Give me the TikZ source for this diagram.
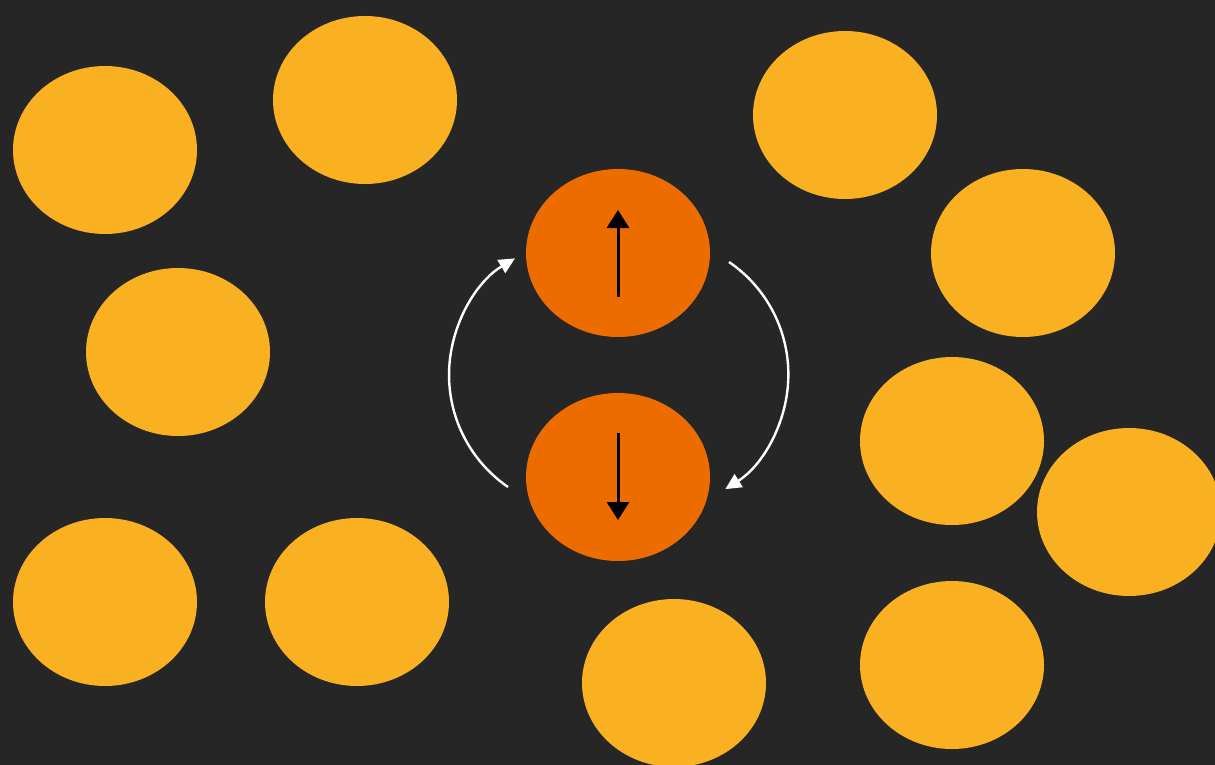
\documentclass[tikz,border=0pt]{standalone}
\usetikzlibrary{shapes.geometric,arrows.meta}
\definecolor{bg}{HTML}{262626}
\definecolor{sun}{HTML}{F9B122}
\definecolor{spin}{HTML}{EC6C00}
\begin{document}
\begin{tikzpicture}[x=0.5pt,y=-0.5pt,
  particle/.style={ellipse,fill=sun,draw=none,minimum width=92pt,minimum height=84pt,inner sep=0pt},
  pair/.style={particle,fill=spin},
  spinarrow/.style={line width=1.5pt,-{Triangle[length=9pt,width=11pt]}},
  flip/.style={white,line width=1.2pt,-{Triangle[length=8pt,width=7.5pt]}}]
  % background and frame
  \fill[bg] (0,0) rectangle (1215,765);
  \useasboundingbox (0,0) rectangle (1215,765);
  % surrounding particles
  \node[particle] (p1) at (105,150) {};
  \node[particle] (p2) at (365,100) {};
  \node[particle] (p3) at (178,352) {};
  \node[particle] (p4) at (105,602) {};
  \node[particle] (p5) at (357,602) {};
  \node[particle] (p6) at (845,115) {};
  \node[particle] (p7) at (1023,253) {};
  \node[particle] (p8) at (952,441) {};
  \node[particle] (p9) at (1129,512) {};
  \node[particle] (p10) at (952,665) {};
  \node[particle] (p11) at (674,683) {};
  % the spin pair
  \node[pair] (up) at (618,253) {};
  \node[pair] (down) at (618,477) {};
  \draw[spinarrow] ([yshift=-22pt]up.center) -- ([yshift=21.5pt]up.center);
  \draw[spinarrow] ([yshift=22pt]down.center) -- ([yshift=-21.5pt]down.center);
  % exchange arcs
  \coordinate (la) at (508,487);
  \coordinate (ra) at (729,262);
  \draw[flip] (la) arc[start angle=124.5,end angle=239,radius=136];
  \draw[flip] (ra) arc[start angle=-55.7,end angle=57.6,radius=136];
\end{tikzpicture}
\end{document}
